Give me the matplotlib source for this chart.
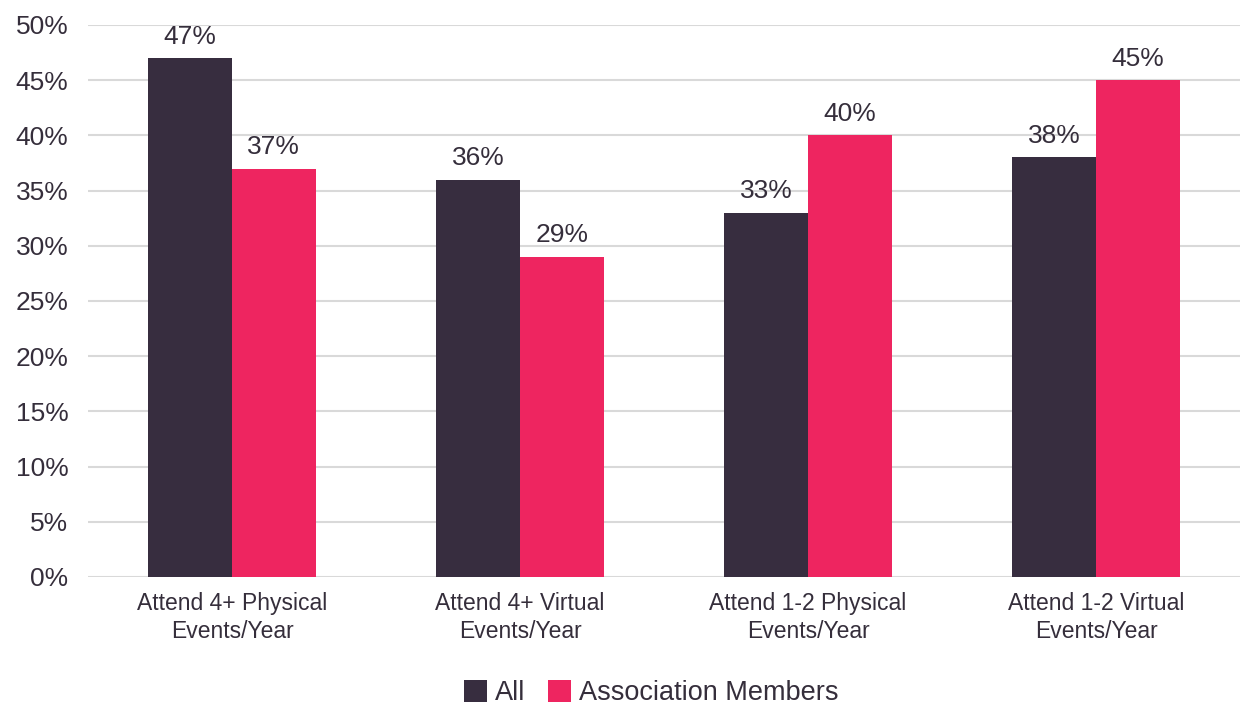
import numpy as np
import matplotlib.pyplot as plt
from matplotlib.ticker import PercentFormatter

# --- Dati ---
categorie = ["Attend 4+ Physical\nEvents/Year", "Attend 4+ Virtual\nEvents/Year",
             "Attend 1-2 Physical\nEvents/Year", "Attend 1-2 Virtual\nEvents/Year"]
tutti = [47, 36, 33, 38]
membri = [37, 29, 40, 45]
serie_nomi = ["All", "Association Members"]

colore_scuro = "#372D3F"
colore_rosa = "#EE2560"
colore_testo = "#352E3B"

plt.rcParams['font.family'] = ['Liberation Sans', 'DejaVu Sans']

fig = plt.figure(figsize=(12.43, 7.04), dpi=100)
ax = fig.add_axes([0.0708, 0.1804, 0.9268, 0.7841])

x = np.arange(len(categorie))
larg = 0.29
b1 = ax.bar(x - larg / 2, tutti, larg, color=colore_scuro, label=serie_nomi[0], zorder=3)
b2 = ax.bar(x + larg / 2, membri, larg, color=colore_rosa, label=serie_nomi[1], zorder=3)

for barre, valori in ((b1, tutti), (b2, membri)):
    for b, v in zip(barre, valori):
        ax.text(b.get_x() + b.get_width() / 2, v + 0.85, f"{v}%", ha='center', va='bottom',
                fontsize=19, color=colore_testo)

ax.set_xlim(-0.5, len(categorie) - 0.5)
ax.set_ylim(0, 50)
ax.set_yticks(np.arange(0, 51, 5))
ax.yaxis.set_major_formatter(PercentFormatter(decimals=0))
ax.set_xticks(x)
ax.set_xticklabels(categorie, fontsize=16.5, color=colore_testo, linespacing=1.25)
ax.tick_params(axis='y', labelsize=19, colors=colore_testo, length=0, pad=14)
ax.tick_params(axis='x', length=0, pad=11)

ax.grid(axis='y', color='#D9D9D9', linewidth=1.5, zorder=0)
for s in ax.spines.values():
    s.set_visible(False)

fig.legend(loc='lower center', bbox_to_anchor=(0.524, -0.038), ncol=2, frameon=False,
           fontsize=19.5, handlelength=0.85, handleheight=0.85, handletextpad=0.3,
           columnspacing=0.85, labelcolor=colore_testo)

fig.savefig("out.png", dpi=100)
